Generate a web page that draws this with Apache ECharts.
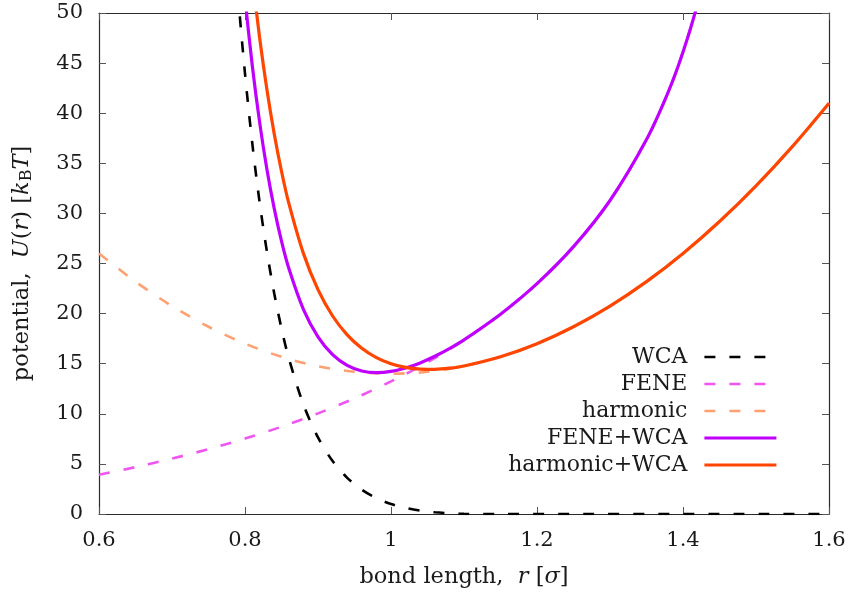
<!DOCTYPE html>
<html>
<head>
<meta charset="utf-8">
<script src="https://cdn.jsdelivr.net/npm/echarts@6/dist/echarts.min.js"></script>
<style>
html,body{margin:0;padding:0;background:#fff;}
#chart{width:849px;height:596px;}
</style>
</head>
<body>
<div id="chart"></div>
<script>
// ---- data ----
const seriesNames = ['WCA', 'FENE', 'harmonic', 'FENE+WCA', 'harmonic+WCA'];

const rWCA = [0.78, 0.79, 0.80, 0.81, 0.82, 0.83, 0.84, 0.85, 0.86, 0.88, 0.90, 0.92, 0.94, 0.96, 0.98, 1.00, 1.02, 1.04, 1.06, 1.08, 1.10, 1.1225, 1.6];
const uWCA = [62.1, 52.2, 43.95, 36.98, 31.12, 26.19, 22.03, 18.52, 15.55, 10.93, 7.64, 5.28, 3.61, 2.42, 1.58, 1.00, 0.60, 0.34, 0.17, 0.068, 0.016, 0, 0];

const rFENE = [0.6, 0.65, 0.7, 0.75, 0.8, 0.85, 0.9, 0.95, 1.0, 1.05, 1.1, 1.15, 1.2, 1.25, 1.3, 1.35, 1.38, 1.40, 1.42, 1.44];
const uFENE = [3.92, 4.68, 5.53, 6.47, 7.53, 8.71, 10.04, 11.54, 13.23, 15.15, 17.36, 19.94, 22.99, 26.68, 31.29, 37.37, 42.15, 46.10, 50.96, 57.28];

const rHarm = [0.6, 0.65, 0.7, 0.75, 0.8, 0.85, 0.9, 0.95, 1.0, 1.05, 1.1, 1.15, 1.2, 1.25, 1.3, 1.35, 1.4, 1.45, 1.5, 1.55, 1.6];
const uHarm = [26.0, 23.19, 20.75, 18.69, 17.0, 15.69, 14.75, 14.19, 14.0, 14.19, 14.75, 15.69, 17.0, 18.69, 20.75, 23.19, 26.0, 29.19, 32.75, 36.69, 41.0];

const rFW = [0.79, 0.80, 0.81, 0.82, 0.83, 0.84, 0.85, 0.86, 0.88, 0.90, 0.92, 0.94, 0.96, 0.98, 1.00, 1.02, 1.04, 1.06, 1.08, 1.10, 1.15, 1.20, 1.25, 1.30, 1.35, 1.38, 1.40, 1.42, 1.44];
const uFW = [59.5, 51.48, 44.74, 39.11, 34.41, 30.50, 27.23, 24.52, 20.42, 17.68, 15.90, 14.83, 14.27, 14.11, 14.23, 14.57, 15.08, 15.74, 16.51, 17.38, 19.94, 22.99, 26.68, 31.29, 37.37, 42.15, 46.10, 50.96, 57.28];

const rHW = [0.80, 0.81, 0.82, 0.83, 0.84, 0.85, 0.86, 0.88, 0.90, 0.92, 0.94, 0.96, 0.98, 1.00, 1.02, 1.04, 1.06, 1.08, 1.10, 1.15, 1.20, 1.25, 1.30, 1.35, 1.40, 1.45, 1.50, 1.55, 1.60];
const uHW = [60.95, 53.69, 47.55, 42.36, 37.95, 34.21, 31.02, 26.01, 22.39, 19.76, 17.88, 16.54, 15.61, 15.0, 14.63, 14.46, 14.44, 14.55, 14.77, 15.69, 17.0, 18.69, 20.75, 23.19, 26.0, 29.19, 32.75, 36.69, 41.0];

const xMin = 0.6, xMax = 1.6, xStep = 0.2;
const yMin = 0, yMax = 50, yStep = 5;

// ---- styling ----
const FONT = 'DejaVu Serif';
const FS = 21;      // tick labels
const FSN = 22.5;   // axis names
const FSL = 22;     // legend
const TXT = '#1a1a1a';
const AX = '#2a2a2a';
const TICK = '#555';

function pairs(xs, ys) { return xs.map((x, i) => [x, ys[i]]); }

const seriesDefs = [
  { name: seriesNames[0], data: pairs(rWCA, uWCA), color: '#000000', width: 2.6, dash: [11, 14] },
  { name: seriesNames[1], data: pairs(rFENE, uFENE), color: '#f055f0', width: 2.6, dash: [11, 14] },
  { name: seriesNames[2], data: pairs(rHarm, uHarm), color: '#ffa070', width: 2.6, dash: [11, 14] },
  { name: seriesNames[3], data: pairs(rFW, uFW), color: '#c000ff', width: 3.2, dash: 'solid' },
  { name: seriesNames[4], data: pairs(rHW, uHW), color: '#ff4500', width: 3.2, dash: 'solid' }
];

const chart = echarts.init(document.getElementById('chart'), null, { renderer: 'canvas' });

const baseX = {
  type: 'value', min: xMin, max: xMax, interval: xStep,
  splitLine: { show: false },
  axisLine: { show: true, onZero: false, lineStyle: { color: AX, width: 1.2 } },
  axisTick: { show: true, inside: true, length: 7, lineStyle: { color: TICK, width: 1 } }
};
const baseY = {
  type: 'value', min: yMin, max: yMax, interval: yStep,
  splitLine: { show: false },
  axisLine: { show: true, onZero: false, lineStyle: { color: AX, width: 1.2 } },
  axisTick: { show: true, inside: true, length: 7, lineStyle: { color: TICK, width: 1 } }
};

const ital = { fontStyle: 'italic', fontFamily: FONT, fontSize: FSN, color: TXT };

chart.setOption({
  animation: false,
  backgroundColor: '#ffffff',
  grid: { left: 99, right: 20, top: 13, bottom: 82, containLabel: false, outerBoundsMode: 'none' },
  legend: {
    data: seriesNames,
    orient: 'vertical',
    right: 66,
    top: 341,
    align: 'right',
    itemWidth: 72,
    itemHeight: 14,
    itemGap: 5,
    itemStyle: { color: 'rgba(0,0,0,0)', borderWidth: 0, opacity: 0 },
    lineStyle: { width: 'inherit' },
    textStyle: { fontFamily: FONT, fontSize: FSL, color: TXT, lineHeight: 22, padding: [0, 12, 0, 0] }
  },
  xAxis: [
    Object.assign({}, baseX, {
      position: 'bottom',
      axisLabel: { fontFamily: FONT, fontSize: FS, color: TXT, margin: 16 },
      name: 'bond length,  {i|r} [{i|σ}]',
      nameLocation: 'middle',
      nameGap: 52,
      nameTextStyle: { fontFamily: FONT, fontSize: FSN, color: TXT, rich: { i: ital } }
    }),
    Object.assign({}, baseX, { position: 'top', axisLabel: { show: false } })
  ],
  yAxis: [
    Object.assign({}, baseY, {
      position: 'left',
      axisLabel: { fontFamily: FONT, fontSize: FS, color: TXT, margin: 16 },
      name: 'potential,  {i|U}({i|r}) [{i|k}{sub|B}{i|T}]',
      nameLocation: 'middle',
      nameRotate: 90,
      nameGap: 64,
      nameTextStyle: {
        fontFamily: FONT, fontSize: FSN, color: TXT,
        rich: {
          i: ital,
          sub: { fontFamily: FONT, fontSize: 16, color: TXT, padding: [10, 0, 0, 0] }
        }
      }
    }),
    Object.assign({}, baseY, { position: 'right', axisLabel: { show: false } })
  ],
  series: seriesDefs.map(s => ({
    name: s.name,
    type: 'line',
    xAxisIndex: 0,
    yAxisIndex: 0,
    data: s.data,
    symbol: 'none',
    smooth: 0.3,
    clip: true,
    color: s.color,
    lineStyle: { color: s.color, width: s.width, type: s.dash },
    emphasis: { disabled: true }
  }))
});
</script>
</body>
</html>
